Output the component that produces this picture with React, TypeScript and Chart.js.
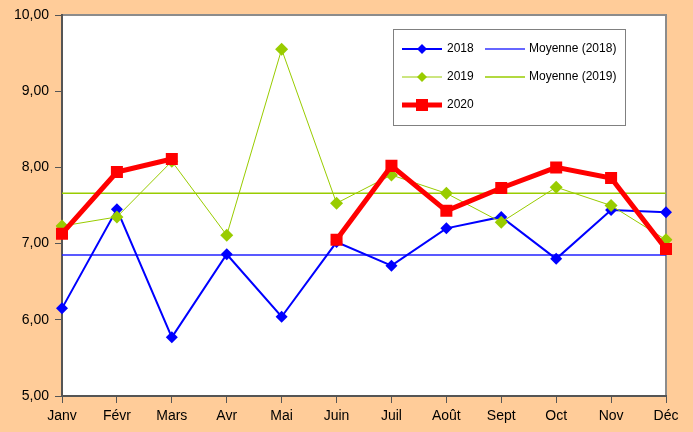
import React, { useEffect, useRef } from "react";
import { Chart, registerables } from "chart.js";

Chart.register(...registerables);

const categories = ["Janv", "Févr", "Mars", "Avr", "Mai", "Juin", "Juil", "Août", "Sept", "Oct", "Nov", "Déc"];
const values2018 = [6.15, 7.45, 5.77, 6.86, 6.04, 7.02, 6.71, 7.2, 7.35, 6.8, 7.44, 7.41];
const values2019 = [7.23, 7.35, 8.08, 7.11, 9.55, 7.53, 7.9, 7.66, 7.28, 7.74, 7.5, 7.05];
const values2020 = [7.13, 7.94, 8.11, null, null, 7.05, 8.02, 7.43, 7.73, 8.0, 7.86, 6.93];
const mean2018 = 6.85;
const mean2019 = 7.66;
const yTicks = [5, 6, 7, 8, 9, 10];

const BLUE = "#0000FF";
const GREEN = "#99CC00";
const RED = "#FF0000";
const FONT = "'Liberation Sans', Arial, sans-serif";

const plotBg = {
  id: "plotBg",
  beforeDraw(chart: any) {
    const { ctx, chartArea: a } = chart;
    ctx.save();
    ctx.fillStyle = "#FFFFFF";
    ctx.fillRect(a.left, a.top, a.right - a.left, a.bottom - a.top);
    ctx.strokeStyle = "#8C8C8C";
    ctx.lineWidth = 2;
    ctx.beginPath();
    ctx.moveTo(a.left, a.top);
    ctx.lineTo(a.right, a.top);
    ctx.lineTo(a.right, a.bottom);
    ctx.stroke();
    ctx.restore();
  },
};

const legendBox = {
  id: "legendBox",
  afterDraw(chart: any) {
    const ctx = chart.ctx;
    ctx.save();
    ctx.fillStyle = "#FFFFFF";
    ctx.fillRect(393, 29, 232, 96);
    ctx.strokeStyle = "#808080";
    ctx.lineWidth = 1;
    ctx.strokeRect(393.5, 29.5, 232, 96);
    const diamond = (x: number, y: number, r: number, c: string) => {
      ctx.fillStyle = c;
      ctx.beginPath();
      ctx.moveTo(x, y - r);
      ctx.lineTo(x + r, y);
      ctx.lineTo(x, y + r);
      ctx.lineTo(x - r, y);
      ctx.closePath();
      ctx.fill();
    };
    const line = (x1: number, x2: number, y: number, c: string, w: number) => {
      ctx.strokeStyle = c;
      ctx.lineWidth = w;
      ctx.beginPath();
      ctx.moveTo(x1, y);
      ctx.lineTo(x2, y);
      ctx.stroke();
    };
    const rows = [49, 77, 105];
    line(402, 442, rows[0], BLUE, 2);
    diamond(422, rows[0], 5, BLUE);
    line(402, 442, rows[1], GREEN, 1);
    diamond(422, rows[1], 5, GREEN);
    line(402, 442, rows[2], RED, 5);
    ctx.fillStyle = RED;
    ctx.fillRect(416, rows[2] - 6, 12, 12);
    line(485, 525, rows[0], "#3333FF", 1.5);
    line(485, 525, rows[1], GREEN, 1.5);
    ctx.fillStyle = "#000000";
    ctx.font = `12px ${FONT}`;
    ctx.textBaseline = "middle";
    ctx.textAlign = "left";
    ctx.fillText("2018", 447, rows[0]);
    ctx.fillText("2019", 447, rows[1]);
    ctx.fillText("2020", 447, rows[2]);
    ctx.fillText("Moyenne (2018)", 529, rows[0]);
    ctx.fillText("Moyenne (2019)", 529, rows[1]);
    ctx.restore();
  },
};

export default function App() {
  const ref = useRef<HTMLCanvasElement>(null);
  useEffect(() => {
    document.body.style.margin = "0";
    const chart = new Chart(ref.current!, {
      type: "line",
      data: {
        labels: categories,
        datasets: [
          {
            label: "2020",
            data: values2020,
            borderColor: RED,
            backgroundColor: RED,
            borderWidth: 5,
            pointStyle: "rect",
            pointRadius: 8.5,
            pointBorderWidth: 0,
            spanGaps: false,
          },
          {
            label: "2019",
            data: values2019,
            borderColor: GREEN,
            backgroundColor: GREEN,
            borderWidth: 1,
            pointStyle: "rectRot",
            pointRadius: 6.5,
            pointBorderWidth: 0,
          },
          {
            label: "2018",
            data: values2018,
            borderColor: BLUE,
            backgroundColor: BLUE,
            borderWidth: 2,
            pointStyle: "rectRot",
            pointRadius: 6,
            pointBorderWidth: 0,
          },
          {
            label: "Moyenne (2018)",
            data: categories.map(() => mean2018),
            borderColor: "#2222FF",
            borderWidth: 1.5,
            pointRadius: 0,
          },
          {
            label: "Moyenne (2019)",
            data: categories.map(() => mean2019),
            borderColor: GREEN,
            borderWidth: 1.5,
            pointRadius: 0,
          },
        ],
      },
      options: {
        animation: false,
        responsive: false,
        layout: { padding: { top: 15, right: 27, left: 0, bottom: 0 } },
        plugins: { legend: { display: false }, tooltip: { enabled: false } },
        elements: { line: { tension: 0 } },
        scales: {
          x: {
            offset: false,
            afterFit: (s: any) => {
              s.height = 36;
            },
            grid: { drawOnChartArea: false, drawTicks: true, tickLength: 7, color: "#555555" },
            border: { color: "#555555", width: 2 },
            ticks: { color: "#000000", font: { family: FONT, size: 14 }, padding: 5, maxRotation: 0, autoSkip: false },
          },
          y: {
            min: 5,
            max: 10,
            afterFit: (s: any) => {
              s.width = 62;
            },
            afterBuildTicks: (s: any) => {
              s.ticks = yTicks.map((v) => ({ value: v }));
            },
            grid: { drawOnChartArea: false, drawTicks: true, tickLength: 7, color: "#555555" },
            border: { color: "#555555", width: 2 },
            ticks: {
              color: "#000000",
              font: { family: FONT, size: 14 },
              padding: 6,
              callback: (v: any) => Number(v).toFixed(2).replace(".", ","),
            },
          },
        },
      },
      plugins: [plotBg, legendBox],
    });
    return () => chart.destroy();
  }, []);
  return (
    <div style={{ width: 693, height: 432, background: "#FFCC99", position: "relative" }}>
      <canvas ref={ref} width={693} height={432} style={{ display: "block" }} />
    </div>
  );
}
